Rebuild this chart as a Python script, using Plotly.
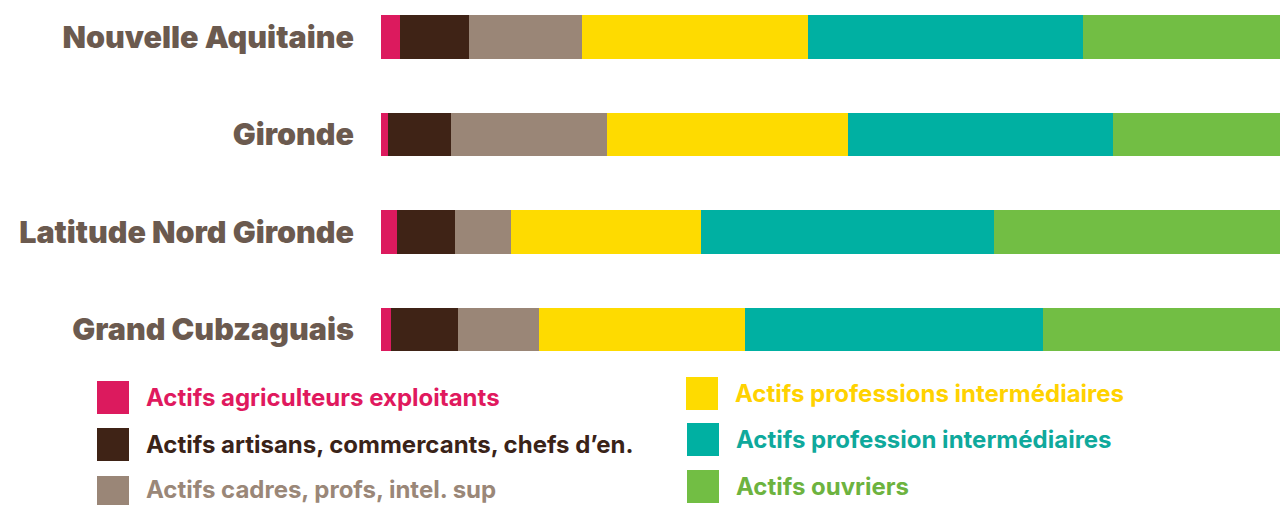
import plotly.graph_objects as go

# ---- data ----
categories = ["Nouvelle Aquitaine", "Gironde", "Latitude Nord Gironde", "Grand Cubzaguais"]
series_names = [
    "Actifs agriculteurs exploitants",
    "Actifs artisans, commercants, chefs d’en.",
    "Actifs cadres, profs, intel. sup",
    "Actifs professions intermédiaires",
    "Actifs profession intermédiaires",
    "Actifs ouvriers",
]
agriculteurs = [2.0, 0.7, 1.7, 1.1]
artisans = [7.4, 6.7, 6.2, 7.1]
cadres = [12.0, 16.6, 5.9, 8.6]
prof_intermediaires = [24.0, 25.7, 20.2, 21.9]
employes = [29.3, 28.2, 31.2, 31.7]
ouvriers = [25.3, 22.1, 34.8, 29.6]
series_values = [agriculteurs, artisans, cadres, prof_intermediaires, employes, ouvriers]

# ---- styles ----
bar_colors = ["#DC1A5E", "#3F2316", "#9A8677", "#FEDB00", "#00B0A2", "#72BE44"]
text_colors = ["#E0195E", "#3A2318", "#9A8778", "#FFD200", "#0FA99C", "#6DB33F"]

OFF = 8  # page body margin
W, H = 1288 - OFF + 60, 505 - OFF
ML, MR, MT = 381 - OFF, 0, 0
PLOT_BOTTOM = 370  # page px
MB = H - (PLOT_BOTTOM - OFF)
PW, PH = W - ML - MR, H - MT - MB
PX_PER_UNIT = 9.4

fig = go.Figure()
for name, vals, col in zip(series_names, series_values, bar_colors):
    fig.add_trace(go.Bar(
        y=categories, x=vals, name=name, orientation="h",
        marker=dict(color=col, line=dict(width=0)), width=0.45,
        showlegend=False, hoverinfo="x+name",
    ))

row_px = 97.5
top_val = -(37 - OFF) / row_px
bot_val = top_val + PH / row_px

fig.update_layout(
    width=W, height=H, barmode="stack",
    margin=dict(l=ML, r=MR, t=MT, b=MB),
    paper_bgcolor="#FFFFFF", plot_bgcolor="rgba(0,0,0,0)",
    xaxis=dict(range=[0, PW / PX_PER_UNIT], visible=False, fixedrange=True),
    yaxis=dict(
        type="category", categoryorder="array", categoryarray=categories,
        range=[bot_val, top_val], showgrid=False, zeroline=False, showline=False,
        ticks="", ticklabelstandoff=26,
        tickfont=dict(family="Inter", size=30.5, color="#6B5A4F", weight=900),
    ),
)

# ---- custom legend (two columns), positions in page pixels ----
def px_x(px):
    return (px - OFF - ML) / PW

def px_y(py):
    return (PH - (py - OFF - MT)) / PH

legend_pos = [
    (97, 381), (97, 428), (97, 476),
    (686, 377), (687, 423), (687, 470),
]
text_dy = [0, 0, -3, 0, 0, 0]
sq = 33
for (lx, ly), dy, name, col, tcol in zip(legend_pos, text_dy, series_names, bar_colors, text_colors):
    fig.add_shape(type="rect", xref="paper", yref="paper",
                  x0=px_x(lx), x1=px_x(lx + sq - 1), y0=px_y(ly + sq), y1=px_y(ly),
                  fillcolor=col, line=dict(width=0), layer="above")
    fig.add_annotation(xref="paper", yref="paper", x=px_x(lx + 47), y=px_y(ly + sq / 2 + dy),
                       text=name, showarrow=False, xanchor="left", yanchor="middle",
                       font=dict(family="Inter", size=24, color=tcol, weight=700))

fig.write_html("out.html")
